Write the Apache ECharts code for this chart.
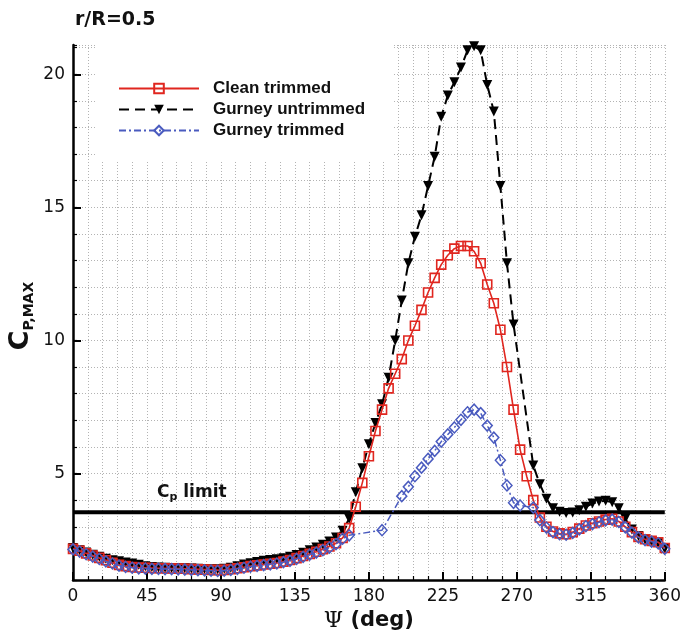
<!DOCTYPE html>
<html><head><meta charset="utf-8">
<script src="https://cdn.jsdelivr.net/npm/echarts@6/dist/echarts.min.js"></script>
<style>html,body{margin:0;padding:0;background:#fff}#c{width:684px;height:637px}</style>
</head><body><div id="c"></div>
<script>
// Azimuth angles (deg)
const psi = [0,4,8,12,16,20,24,28,32,36,40,44,48,52,56,60,64,68,72,76,80,84,88,92,96,100,104,108,112,116,120,124,128,132,136,140,144,148,152,156,160,164,168,172,176,180,184,188,192,196,200,204,208,212,216,220,224,228,232,236,240,244,248,252,256,260,264,268,272,276,280,284,288,292,296,300,304,308,312,316,320,324,328,332,336,340,344,348,352,356,360];

const cleanTrimmed = [2.17,2.1,2.0,1.92,1.83,1.74,1.65,1.57,1.52,1.49,
1.47,1.46,1.45,1.44,1.44,1.43,1.43,1.42,1.41,1.40,
1.39,1.38,1.37,1.38,1.41,1.44,1.48,1.52,1.55,1.58,
1.61,1.64,1.69,1.75,1.82,1.9,1.98,2.06,2.16,2.26,
2.38,2.58,2.95,3.75,4.65,5.65,6.6,7.4,8.2,8.75,
9.3,10.0,10.55,11.15,11.8,12.35,12.85,13.2,13.45,13.55,
13.55,13.35,12.9,12.1,11.4,10.4,9.0,7.4,5.9,4.9,
4.0,3.35,3.0,2.82,2.75,2.72,2.8,2.93,3.05,3.13,
3.2,3.27,3.3,3.2,3.0,2.8,2.62,2.53,2.47,2.42,
2.2];

const gurneyUntrimmed = [2.2,2.12,2.03,1.95,1.87,1.8,1.74,1.7,1.66,1.62,
1.57,1.52,1.49,1.47,1.46,1.45,1.45,1.44,1.43,1.42,
1.41,1.40,1.40,1.42,1.46,1.52,1.58,1.63,1.68,1.72,
1.75,1.78,1.82,1.87,1.94,2.02,2.12,2.22,2.32,2.45,
2.6,2.85,3.3,4.3,5.2,6.1,6.9,7.6,8.6,10.0,
11.5,12.9,13.9,14.7,15.8,16.9,18.4,19.2,19.7,20.25,
20.9,21.05,20.9,19.6,18.6,15.8,12.9,10.6,null,null,
5.3,4.6,4.05,3.7,3.56,3.52,3.54,3.62,3.75,3.87,
3.95,3.98,3.92,3.7,3.3,2.9,2.65,2.52,2.45,2.38,
2.17];

const gurneyTrimmed = [2.15,2.07,1.97,1.88,1.79,1.7,1.62,1.54,1.49,1.46,
1.44,1.43,1.42,1.42,1.41,1.41,1.4,1.39,1.38,1.37,
1.36,1.35,1.34,1.35,1.38,1.42,1.46,1.5,1.53,1.56,
1.59,1.62,1.67,1.72,1.79,1.87,1.95,2.03,2.12,2.22,
2.35,2.55,2.68,null,null,null,null,2.87,null,null,
4.15,4.5,4.9,5.22,5.55,5.85,6.2,6.47,6.73,7.02,
7.3,7.4,7.27,6.8,6.35,5.5,4.55,3.9,3.8,null,
3.72,3.25,2.97,2.8,2.72,2.7,2.77,2.9,3.02,3.1,
3.17,3.24,3.27,3.18,2.98,2.78,2.6,2.5,2.44,2.38,
2.17];

const cpLimitPsi = [0, 360];
const cpLimit = [3.55, 3.55];
const yMajorTicks = [5, 10, 15, 20];
const seriesNames = ['Clean trimmed', 'Gurney untrimmed', 'Gurney trimmed'];

const RED = '#e0261f', BLUE = '#4a5bbf', BLACK = '#000';
const gridLine = {show:true, lineStyle:{color:'#b3b3b3', type:[1,2], width:1}};
const pairs = (xs, ys) => xs.map((x,i) => [x, ys[i]]);

const chart = echarts.init(document.getElementById('c'));
chart.setOption({
  animation:false,
  backgroundColor:'#fff',
  grid:{left:73, right:18, top:45, bottom:54},
  legend:{
    data:seriesNames, orient:'vertical', left:113, top:75,
    itemWidth:80, itemHeight:12, itemGap:4, selectedMode:false,
    textStyle:{fontFamily:'Liberation Sans', fontWeight:'bold', fontSize:17, lineHeight:17, color:'#111', padding:[0,0,0,9]}
  },
  xAxis:{
    type:'value', min:0, max:360, interval:45,
    axisLine:{show:true, onZero:false, lineStyle:{color:'#000', width:2.5}},
    axisTick:{show:true, inside:true, length:8, lineStyle:{color:'#000', width:2}},
    minorTick:{show:true, splitNumber:5, length:4, lineStyle:{color:'#000', width:1.2}},
    axisLabel:{margin:8, fontSize:17, fontFamily:'DejaVu Sans', color:'#111'},
    splitLine:gridLine, minorSplitLine:gridLine,
    name:'{p|Ψ} (deg)', nameLocation:'middle', nameGap:30,
    nameTextStyle:{fontSize:21, fontWeight:'bold', fontFamily:'DejaVu Sans', color:'#111',
      rich:{p:{fontSize:22, fontWeight:'normal', fontFamily:'DejaVu Serif', color:'#111'}}}
  },
  yAxis:[{
    type:'value', min:1, max:21.1, interval:1,
    axisLine:{show:true, onZero:false, lineStyle:{color:'#000', width:2.5}},
    axisTick:{show:true, inside:true, length:4, lineStyle:{color:'#000', width:1.2}},
    axisLabel:{show:false},
    splitLine:gridLine
  },{
    type:'value', min:1, max:21.1, position:'left',
    axisLine:{show:false},
    axisTick:{show:true, inside:true, length:8, customValues:yMajorTicks, lineStyle:{color:'#000', width:2}},
    axisLabel:{show:true, customValues:yMajorTicks, margin:8, fontSize:17, fontFamily:'DejaVu Sans', color:'#111'},
    splitLine:{show:false}
  }],
  graphic:[
    {type:'rect', shape:{x:96, y:40, width:298, height:120}, style:{fill:'#fff'}, z:1, silent:true},
    {type:'text', left:75, top:11, z:10, style:{text:'r/R=0.5', font:'bold 19px "DejaVu Sans"', fill:'#111'}},
    {type:'text', x:21, y:316, rotation:Math.PI/2, z:10,
      style:{text:'{c|C}{s|P,MAX}', align:'center', verticalAlign:'middle',
        rich:{c:{fontSize:27, fontWeight:'bold', fontFamily:'DejaVu Sans', fill:'#111', lineHeight:30},
              s:{fontSize:14, fontWeight:'bold', fontFamily:'DejaVu Sans', fill:'#111', lineHeight:16, verticalAlign:'bottom'}}}},
    {type:'text', left:157, top:484, z:10,
      style:{text:'{c|C}{s|p}{t| limit}',
        rich:{c:{fontSize:17, fontWeight:'bold', fontFamily:'DejaVu Sans', fill:'#111', lineHeight:20},
              s:{fontSize:11, fontWeight:'bold', fontFamily:'DejaVu Sans', fill:'#111', lineHeight:13, verticalAlign:'bottom'},
              t:{fontSize:17, fontWeight:'bold', fontFamily:'DejaVu Sans', fill:'#111', lineHeight:20}}}}
  ],
  series:[
    {name:'Cp limit', type:'line', data:pairs(cpLimitPsi, cpLimit), symbol:'none', silent:true,
      lineStyle:{color:'#000', width:4}, z:2},
    {name:seriesNames[1], type:'line', data:pairs(psi, gurneyUntrimmed), connectNulls:true,
      symbol:'triangle', symbolRotate:180, symbolSize:10,
      itemStyle:{color:BLACK}, lineStyle:{color:BLACK, width:2, type:[10,6]}, z:3},
    {name:seriesNames[0], type:'line', data:pairs(psi, cleanTrimmed), connectNulls:true,
      symbol:'rect', symbolSize:9,
      itemStyle:{color:'rgba(255,255,255,0)', borderColor:RED, borderWidth:1.6}, lineStyle:{color:RED, width:1.6}, z:4},
    {name:seriesNames[2], type:'line', data:pairs(psi, gurneyTrimmed), connectNulls:true,
      symbol:'diamond', symbolSize:[10,11],
      itemStyle:{color:'rgba(255,255,255,0)', borderColor:BLUE, borderWidth:1.5}, lineStyle:{color:BLUE, width:1.5, type:[7,3,2,3]}, z:5}
  ]
});
</script></body></html>
